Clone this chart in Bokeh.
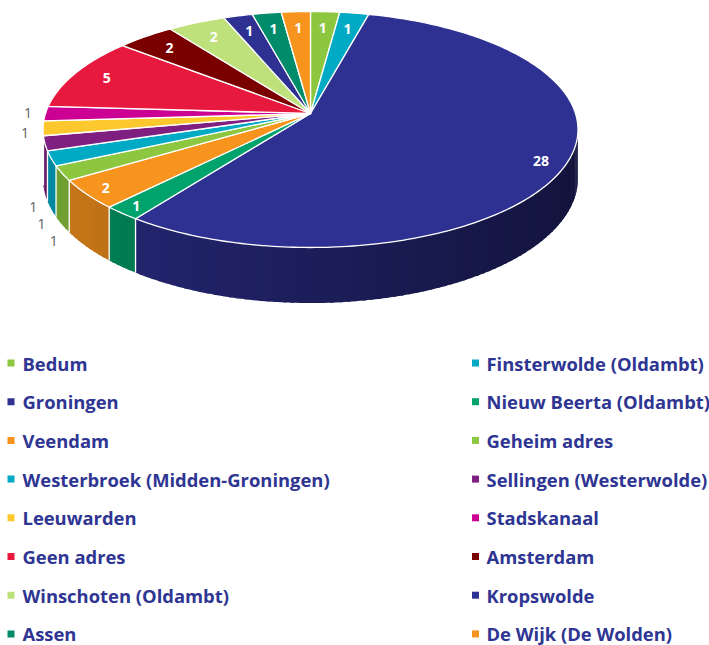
import numpy as np
from bokeh.plotting import figure
from bokeh.models import Range1d
from bokeh.core.properties import value
from bokeh.embed import file_html
from bokeh.resources import INLINE

# ---------------- data ----------------
names = ["Bedum", "Finsterwolde (Oldambt)", "Groningen", "Nieuw Beerta (Oldambt)",
         "Veendam", "Geheim adres", "Westerbroek (Midden-Groningen)",
         "Sellingen (Westerwolde)", "Leeuwarden", "Stadskanaal", "Geen adres",
         "Amsterdam", "Winschoten (Oldambt)", "Kropswolde", "Assen",
         "De Wijk (De Wolden)"]
counts = [1, 1, 28, 1, 2, 1, 1, 1, 1, 1, 5, 2, 2, 1, 1, 1]
colors = ["#8dc63f", "#00a9c4", "#2e3192", "#00a36c", "#f7941d", "#8dc63f",
          "#00a9c4", "#7f1f7f", "#fcc82d", "#cc0092", "#e8193e", "#7a0000",
          "#bee17b", "#2e3192", "#008b6b", "#f7941d"]

# ---------------- geometry (perspective pie) ----------------
W, H = 709, 645
CX, AY = 310.0, 113.0      # apex (pie centre) on screen
A, B, K = 265.0, 100.5, 0.1356
DEPTH = 48.0


def proj(r, th):
    th = np.asarray(th, dtype=float)
    u = r * np.sin(th)
    v = r * np.cos(th)
    s = 1 + K * v
    return CX + A * u / s, (AY - B * v) / s


def proj_bottom(th):
    x, y = proj(1.0, th)
    s = 1 + K * np.cos(th)
    return x, y + DEPTH / s


def shade(hexc, f):
    h = hexc.lstrip("#")
    r, g, b = (int(h[i:i + 2], 16) for i in (0, 2, 4))
    return "#%02x%02x%02x" % (int(r * f), int(g * f), int(b * f))


total = float(sum(counts))
edges = np.concatenate([[0.0], np.cumsum(counts)]) / total * 2 * np.pi
TH_R = np.arccos(-K)
TH_L = 2 * np.pi - TH_R

p = figure(width=W, height=H, x_range=Range1d(0, W), y_range=Range1d(H, 0),
           x_axis_type=None, y_axis_type=None, toolbar_location=None,
           output_backend="svg", min_border=0, outline_line_color=None,
           background_fill_color="white", border_fill_color="white")

# ---- side walls (overlapping strips for a smooth shading) ----
sx, sy, sc = [], [], []
step = np.radians(1.5)
for i in range(len(counts)):
    a0, a1 = max(edges[i], TH_R), min(edges[i + 1], TH_L)
    if a1 <= a0:
        continue
    n = max(1, int(np.ceil((a1 - a0) / step)))
    bs = np.linspace(a0, a1, n + 1)
    for j in range(n):
        e = min(a1, bs[j + 1] + np.radians(0.6))
        t = np.linspace(bs[j], e, 5)
        tx, ty = proj(1.0, t)
        bx, by = proj_bottom(t[::-1])
        sx.append(list(tx) + list(bx))
        sy.append(list(ty) + list(by))
        xm = float(np.mean(tx))
        f = 0.82 - 0.40 * (xm - 42) / 535.0
        sc.append(shade(colors[i], min(0.85, max(0.4, f))))
p.patches(sx, sy, fill_color=sc, line_color=None)

sep_x, sep_y = [], []
for e in edges[1:-1]:
    if TH_R < e < TH_L:
        tx, ty = proj(1.0, e)
        bx, by = proj_bottom(e)
        sep_x.append([float(tx), float(bx)])
        sep_y.append([float(ty), float(by)])
p.multi_line(sep_x, sep_y, line_color="white", line_width=1.3)

# ---- top slices ----
px, py = [], []
for i in range(len(counts)):
    n = max(4, int(np.degrees(edges[i + 1] - edges[i])) + 2)
    t = np.linspace(edges[i], edges[i + 1], n)
    x, y = proj(1.0, t)
    px.append([CX] + list(x))
    py.append([AY] + list(y))
p.patches(px, py, fill_color=colors, line_color="white", line_width=1.3,
          line_join="round")

# ---- data labels ----
in_x, in_y, in_t = [], [], []
out_x, out_y, out_t = [], [], []
for i in range(len(counts)):
    a0, a1 = edges[i], edges[i + 1]
    mid = 0.5 * (a0 + a1)
    x0, y0 = proj(1.0, a0)
    x1, y1 = proj(1.0, a1)
    chord = np.hypot(x1 - x0, y1 - y0)
    if chord >= 22:
        r = 0.885 - 0.06 * np.cos(mid)
        lx, ly = proj(r, mid)
        in_x.append(float(lx)); in_y.append(float(ly)); in_t.append(str(counts[i]))
    else:
        if TH_R < mid < TH_L:
            ax, ay = proj_bottom(mid)
        else:
            ax, ay = proj(1.0, mid)
            ay += 4
        nx, ny = (ax - CX) / A ** 2, (ay - 129.0) / 118.0 ** 2
        nn = np.hypot(nx, ny)
        lx, ly = ax + 18 * nx / nn, ay + 18 * ny / nn
        out_x.append(float(lx)); out_y.append(float(ly)); out_t.append(str(counts[i]))

p.text(in_x, in_y, text=in_t, text_color="white", text_font=value("Open Sans"),
       text_font_style="bold", text_font_size="14px", text_align="center",
       text_baseline="middle")
p.text(out_x, out_y, text=out_t, text_color="#606060", text_font=value("Open Sans"),
       text_font_size="14px", text_align="center", text_baseline="middle")

# ---- legend ----
LEG_TOP, LEG_STEP = 362.5, 38.7
COL_SQ = [10.5, 475.0]
COL_TX = [22.0, 486.0]
lsx, lsy, ltx, lty = [], [], [], []
for i, nm in enumerate(names):
    row, col = divmod(i, 2)
    yy = LEG_TOP + row * LEG_STEP
    lsx.append(COL_SQ[col]); lsy.append(yy)
    ltx.append(COL_TX[col]); lty.append(yy)
p.scatter(lsx, lsy, marker="square", size=7, fill_color=colors, line_color=None)
p.text(ltx, lty, text=names, text_color="#2e3592", text_font=value("Open Sans"),
       text_font_style="bold", text_font_size="18.4px", text_align="left",
       text_baseline="middle")

open("out.html", "w").write(file_html(p, INLINE))
